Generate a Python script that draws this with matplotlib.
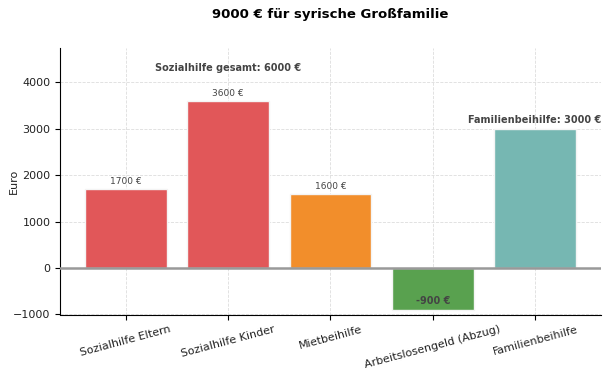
import matplotlib.pyplot as plt

categories = ["Sozialhilfe Eltern", "Sozialhilfe Kinder", "Mietbeihilfe",
              "Arbeitslosengeld (Abzug)", "Familienbeihilfe"]
values = [1700, 3600, 1600, -900, 3000]
colors = ["#E15759", "#E15759", "#F28E2B", "#59A14F", "#76B7B2"]
sozialhilfe_total = 6000

fig, ax = plt.subplots(figsize=(6.16, 3.70), dpi=100)
ax.bar(categories, values, color=colors, edgecolor="#f4f4f4", linewidth=1, zorder=2)

ax.axhline(0, color="#999999", linewidth=1.8, zorder=3)

# labels on the bars
for i, v in enumerate(values[:3]):
    ax.text(i, v + 60, f"{v} €", ha="center", va="bottom", fontsize=6.5, color="#444444")
ax.text(3, values[3] + 200, f"{values[3]} €", ha="center", va="center",
        fontsize=7, fontweight="bold", color="#444444", zorder=4)

ax.text(1, 4200, f"Sozialhilfe gesamt: {sozialhilfe_total} €", ha="center", va="bottom",
        fontsize=7, fontweight="bold", color="#444444")
ax.text(4, 3080, f"Familienbeihilfe: {values[4]} €", ha="center", va="bottom",
        fontsize=7, fontweight="bold", color="#444444")

ax.set_ylim(-1000, 4730)
ax.set_yticks([-1000, 0, 1000, 2000, 3000, 4000])
ax.set_ylabel("Euro", fontsize=8, color="#222222")
ax.yaxis.set_label_coords(-0.077, 0.5)
ax.set_title("9000 € für syrische Großfamilie", fontsize=9.5, fontweight="bold", pad=22)
ax.tick_params(axis="both", labelsize=8, labelcolor="#222222")
plt.setp(ax.get_xticklabels(), rotation=15)
ax.grid(True, linestyle="--", linewidth=0.6, color="#dddddd", zorder=0)
ax.spines["top"].set_visible(False)
ax.spines["right"].set_visible(False)

plt.subplots_adjust(left=0.098, right=0.975, top=0.87, bottom=0.15)
plt.savefig("out.png")
